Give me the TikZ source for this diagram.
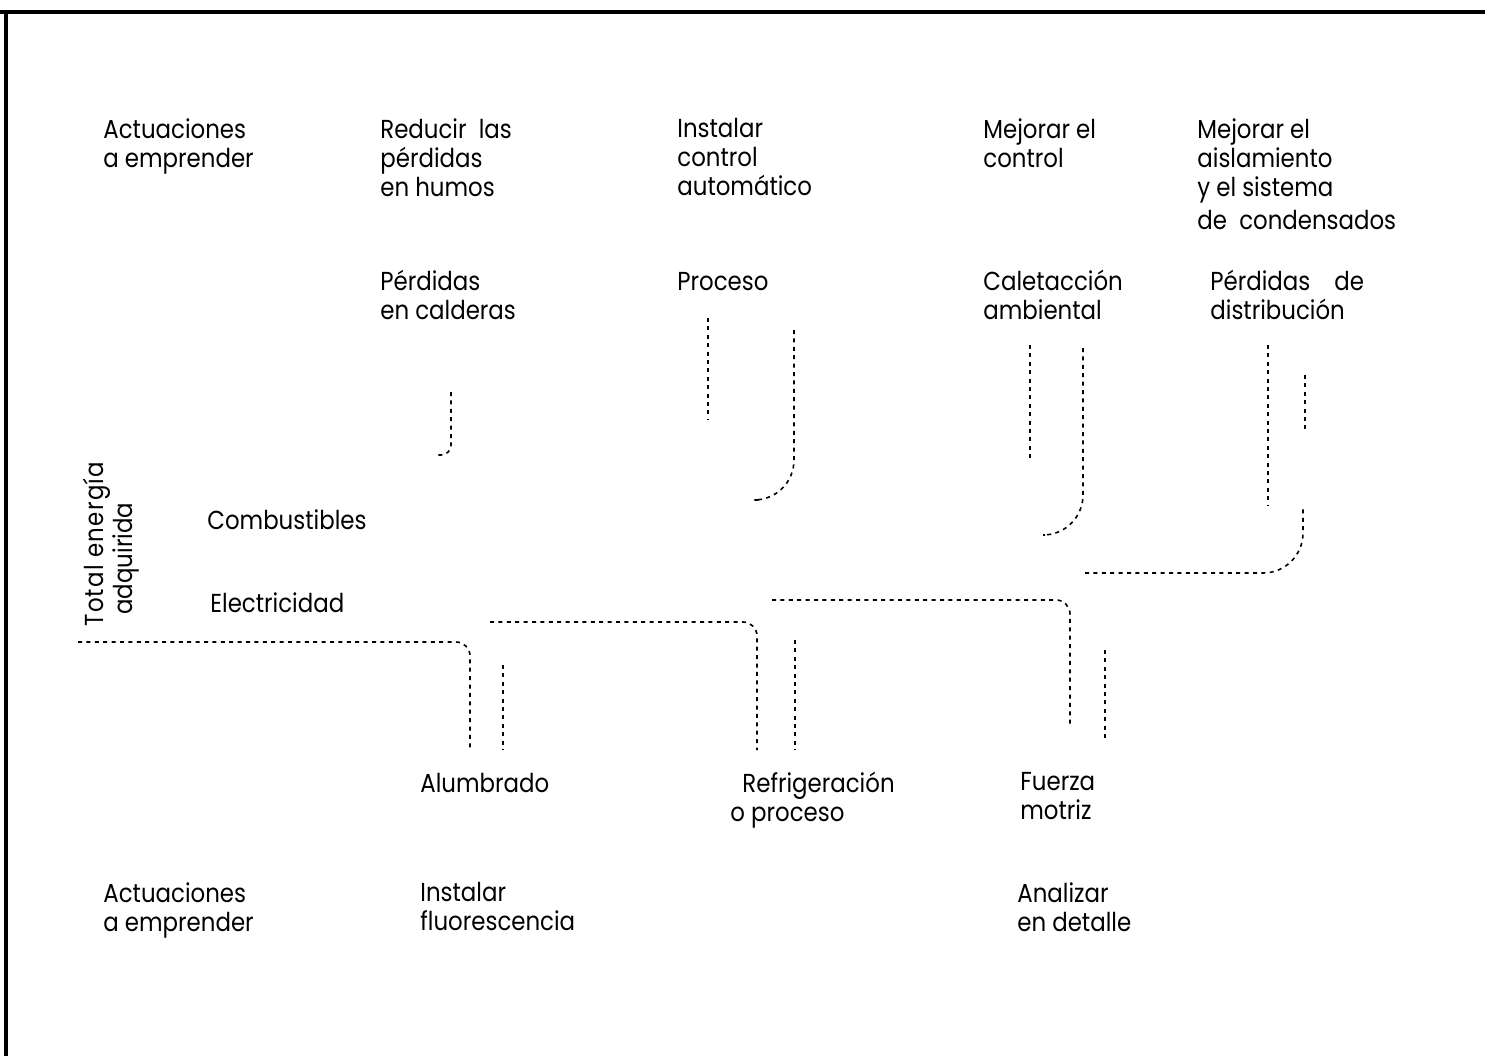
\documentclass[tikz,border=0pt]{standalone}
\usepackage{fontspec}
\setmainfont[FakeStretch=0.88]{Poppins}
\usepackage{tikz}
\usetikzlibrary{positioning}

\begin{document}
\begin{tikzpicture}[
  x=0.5pt, y=-0.5pt,
  every node/.style={font=\fontsize{13}{14.5}\selectfont},
  lbl/.style={inner sep=0pt, anchor=north west, align=left,
    execute at begin node=\strut},
  flow/.style={line width=0.8pt, dash pattern=on 2pt off 2.2pt,
    rounded corners=7pt},
  bigflow/.style={flow, rounded corners=20pt},
  frameline/.style={line width=1.8pt},
]
\useasboundingbox (0,0) rectangle (1485,1056);

% Frame (top and left only)
\coordinate (fTL) at (6,12);
\coordinate (fTR) at (1485,12);
\coordinate (fBL) at (6,1056);
\draw[frameline] (0,12) -- (fTR);
\draw[frameline] (fTL) -- (fBL);

% Top row — actions
\node[lbl] (actTop) at (103,118) {Actuaciones\\a emprender};
\node[lbl] (humos) at (380,118) {Reducir\ \ las\\pérdidas\\en humos};
\node[lbl] (ctrlAuto) at (677,118) {Instalar\\control\\automático};
\node[lbl] (mejCtrl) at (983,118) {Mejorar el\\control};
\node[lbl] (aisl) at (1197,118) {Mejorar el\\aislamiento\\y el sistema\\[2pt]de\ \ condensados};

% Second row — uses of fuel
\node[lbl] (calderas) at (380,270) {Pérdidas\\en calderas};
\node[lbl] (proceso) at (677,270) {Proceso};
\node[lbl] (calef) at (983,270) {Caletacción\\ambiental};
\node[lbl] (distrib) at (1210,270) {Pérdidas\hspace{12pt}de\\distribución};

% Sources
\node[lbl, rotate=90] (total) at (83,627)
  {\addfontfeature{LetterSpace=5}Total energía\\\hspace{6pt}adquirida};
\node[lbl] (comb) at (207,509) {Combustibles};
\node[lbl] (elec) at (210,592) {Electricidad};

% Electricity uses
\node[lbl] (alumb) at (420,772) {Alumbrado};
\node[lbl] (refrig) at (742,772) {Refrigeración\\\hspace{-6pt}o proceso};
\node[lbl] (fuerza) at (1020,772) {Fuerza\\motriz};

% Bottom row — actions
\node[lbl] (actBot) at (103,882) {Actuaciones\\a emprender};
\node[lbl] (fluor) at (420,882) {Instalar\\fluorescencia};
\node[lbl] (analiz) at (1017,882) {Analizar\\en detalle};

% Flow band ends
\coordinate (elecIn) at (78,642);
\coordinate (alumbL) at (470,750);
\coordinate (alumbRt) at (503,665);
\coordinate (alumbR) at (503,750);
\coordinate (refIn) at (490,622);
\coordinate (refL) at (757,750);
\coordinate (refRt) at (795,640);
\coordinate (refR) at (795,750);
\coordinate (fzaIn) at (772,600);
\coordinate (fzaL) at (1070,725);
\coordinate (fzaRt) at (1105,650);
\coordinate (fzaR) at (1105,740);
\coordinate (combIn) at (1085,573);
\coordinate (distR) at (1303,508);
\coordinate (distLt) at (1268,345);
\coordinate (distL) at (1268,505);
\coordinate (distRt) at (1305,375);
\coordinate (distRb) at (1305,432);
\coordinate (calLt) at (1030,345);
\coordinate (calL) at (1030,462);
\coordinate (calRt) at (1083,348);
\coordinate (calR) at (1045,535);
\coordinate (procLt) at (708,318);
\coordinate (procL) at (708,420);
\coordinate (procRt) at (794,330);
\coordinate (procR) at (758,500);
\coordinate (caldT) at (451,392);
\coordinate (caldB) at (436,455);

% Electricity branches
\draw[flow] (elecIn) -| (alumbL);
\draw[flow] (alumbRt) -- (alumbR);
\draw[flow] (refIn) -| (refL);
\draw[flow] (refRt) -- (refR);
\draw[flow] (fzaIn) -| (fzaL);
\draw[flow] (fzaRt) -- (fzaR);

% Fuel branches
\draw[bigflow] (combIn) -| (distR);
\draw[flow] (distLt) -- (distL);
\draw[flow] (distRt) -- (distRb);
\draw[flow] (calLt) -- (calL);
\draw[bigflow] (calRt) |- (calR);
\draw[flow] (procLt) -- (procL);
\draw[bigflow] (procRt) |- (procR);
\draw[flow, rounded corners=5pt] (caldT) |- (caldB);
\end{tikzpicture}
\end{document}
